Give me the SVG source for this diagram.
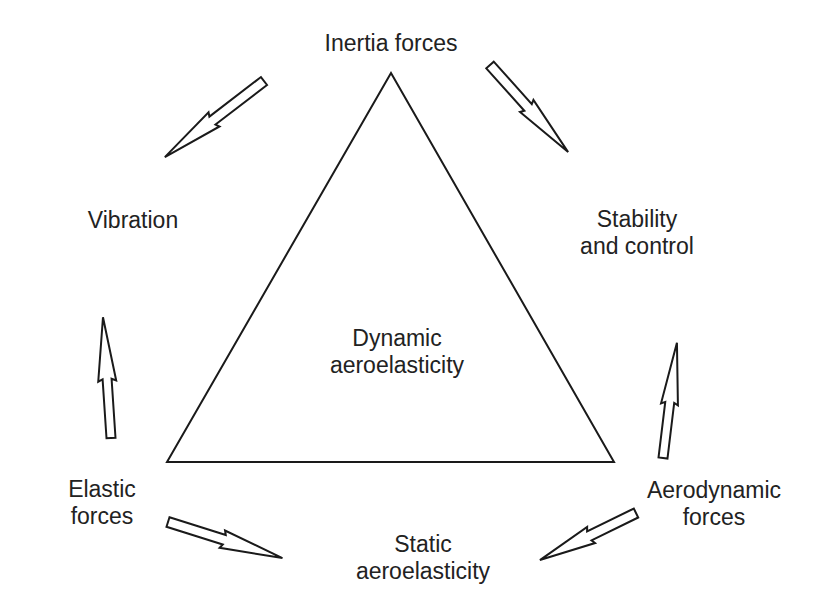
<svg xmlns="http://www.w3.org/2000/svg" width="840" height="602" viewBox="0 0 840 602">
<style>
text{font-family:"Liberation Sans",Arial,sans-serif;font-size:23px;fill:#222;text-anchor:middle}
.arr{fill:#fff;stroke:#1a1a1a;stroke-width:2;stroke-linejoin:miter}
.tri{fill:none;stroke:#1a1a1a;stroke-width:2}
</style>
<rect width="840" height="602" fill="#fff"/>
<g id="triangle"><polygon class="tri" points="391,73 167,462 614,462"/></g>
<g id="inertia"><text x="391" y="51">Inertia forces</text></g>
<g id="vibration"><text x="133" y="228">Vibration</text></g>
<g id="stability"><text x="637" y="227">Stability</text><text x="637" y="254">and control</text></g>
<g id="dynamic"><text x="397" y="346">Dynamic</text><text x="397" y="373">aeroelasticity</text></g>
<g id="elastic"><text x="102" y="497">Elastic</text><text x="102" y="524">forces</text></g>
<g id="static"><text x="423" y="552">Static</text><text x="423" y="579">aeroelasticity</text></g>
<g id="aerodynamic"><text x="714" y="498">Aerodynamic</text><text x="714" y="525">forces</text></g>
<g id="connectors">
<path class="arr" transform="translate(264,81) rotate(142.5)" d="M0,-5 H65 L63,-9 L125,0 L63,9 L65,5 H0 Z"/>
<path class="arr" transform="translate(490,65) rotate(48.1)" d="M0,-5 H57 L55,-9 L117,0 L55,9 L57,5 H0 Z"/>
<path class="arr" transform="translate(111,438) rotate(266.2)" d="M0,-4.5 H59 L57,-9 L121,0 L57,9 L59,4.5 H0 Z"/>
<path class="arr" transform="translate(663,458) rotate(-83.1)" d="M0,-4.5 H56 L54,-8.5 L116,0 L54,8.5 L56,4.5 H0 Z"/>
<path class="arr" transform="translate(168,522) rotate(17.5)" d="M0,-5 H59 L57,-9 L120,0 L57,9 L59,5 H0 Z"/>
<path class="arr" transform="translate(636,513) rotate(153.9)" d="M0,-5 H52 L50,-9 L107,0 L50,9 L52,5 H0 Z"/>
</g>
</svg>
